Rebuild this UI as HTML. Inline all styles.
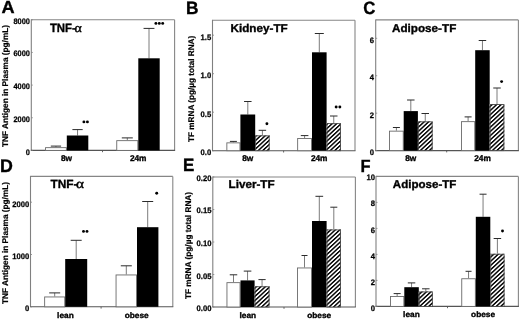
<!DOCTYPE html>
<html><head><meta charset="utf-8"><style>
html,body{margin:0;padding:0;background:#fff;}
body{width:520px;height:320px;overflow:hidden;}
svg{display:block;filter:blur(0.4px);}
text{text-rendering:geometricPrecision;}
</style></head><body>
<svg width="520" height="320" viewBox="0 0 520 320">
<defs>
<pattern id="hatch" patternUnits="userSpaceOnUse" width="3.07" height="3.07" patternTransform="rotate(47)">
<rect x="0" y="0" width="3.07" height="3.07" fill="#fff"/>
<rect x="0" y="0" width="1.45" height="3.07" fill="#000"/>
</pattern>
</defs>
<rect x="0" y="0" width="520" height="320" fill="#fff"/>
<line x1="31.3" y1="19.8" x2="174.6" y2="19.8" stroke="#868686" stroke-width="1.1"/>
<line x1="174.6" y1="19.8" x2="174.6" y2="150.4" stroke="#868686" stroke-width="1.1"/>
<line x1="31.3" y1="19.3" x2="31.3" y2="150.4" stroke="#808080" stroke-width="1.1"/>
<line x1="30.8" y1="150.4" x2="175.1" y2="150.4" stroke="#555555" stroke-width="1.1"/>
<line x1="31.3" y1="150.4" x2="32.8" y2="150.4" stroke="#808080" stroke-width="0.8"/>
<text transform="translate(29.9,155) scale(0.94,1.0)" x="0" y="0" font-size="7.9" text-anchor="end" font-weight="bold" font-family='"Liberation Sans", sans-serif' stroke="#000" stroke-width="0.25" >0</text>
<line x1="31.3" y1="117.75" x2="32.8" y2="117.75" stroke="#808080" stroke-width="0.8"/>
<text transform="translate(29.9,122) scale(0.94,1.0)" x="0" y="0" font-size="7.9" text-anchor="end" font-weight="bold" font-family='"Liberation Sans", sans-serif' stroke="#000" stroke-width="0.25" >2000</text>
<line x1="31.3" y1="85.10000000000001" x2="32.8" y2="85.10000000000001" stroke="#808080" stroke-width="0.8"/>
<text transform="translate(29.9,89) scale(0.94,1.0)" x="0" y="0" font-size="7.9" text-anchor="end" font-weight="bold" font-family='"Liberation Sans", sans-serif' stroke="#000" stroke-width="0.25" >4000</text>
<line x1="31.3" y1="52.45" x2="32.8" y2="52.45" stroke="#808080" stroke-width="0.8"/>
<text transform="translate(29.9,56) scale(0.94,1.0)" x="0" y="0" font-size="7.9" text-anchor="end" font-weight="bold" font-family='"Liberation Sans", sans-serif' stroke="#000" stroke-width="0.25" >6000</text>
<line x1="31.3" y1="19.80000000000001" x2="32.8" y2="19.80000000000001" stroke="#808080" stroke-width="0.8"/>
<text transform="translate(29.9,24) scale(0.94,1.0)" x="0" y="0" font-size="7.9" text-anchor="end" font-weight="bold" font-family='"Liberation Sans", sans-serif' stroke="#000" stroke-width="0.25" >8000</text>
<line x1="55.95" y1="147.2" x2="55.95" y2="146.1" stroke="#5a5a5a" stroke-width="0.8"/>
<line x1="50.800000000000004" y1="146.1" x2="61.1" y2="146.1" stroke="#2a2a2a" stroke-width="1"/>
<rect x="45.550000000000004" y="147.64999999999998" width="20.799999999999997" height="2.750000000000017" fill="#fff" stroke="#6a6a6a" stroke-width="0.9"/>
<line x1="77.55" y1="135.5" x2="77.55" y2="129.6" stroke="#5a5a5a" stroke-width="0.8"/>
<line x1="72.39999999999999" y1="129.6" x2="82.7" y2="129.6" stroke="#2a2a2a" stroke-width="1"/>
<rect x="66.8" y="135.5" width="21.5" height="14.900000000000006" fill="#000"/>
<line x1="127.30000000000001" y1="140.2" x2="127.30000000000001" y2="137.9" stroke="#5a5a5a" stroke-width="0.8"/>
<line x1="121.80000000000001" y1="137.9" x2="132.8" y2="137.9" stroke="#2a2a2a" stroke-width="1"/>
<rect x="116.75" y="140.64999999999998" width="21.100000000000016" height="9.750000000000018" fill="#fff" stroke="#6a6a6a" stroke-width="0.9"/>
<line x1="149.0" y1="58.3" x2="149.0" y2="28.4" stroke="#5a5a5a" stroke-width="0.8"/>
<line x1="143.55" y1="28.4" x2="154.45" y2="28.4" stroke="#2a2a2a" stroke-width="1"/>
<rect x="138.3" y="58.3" width="21.399999999999977" height="92.10000000000001" fill="#000"/>
<line x1="102.5" y1="150.4" x2="102.5" y2="152.20000000000002" stroke="#555555" stroke-width="0.9"/>
<text x="66.5" y="161.2" font-size="8.3" text-anchor="middle" font-weight="bold" font-family='"Liberation Sans", sans-serif' stroke="#000" stroke-width="0.35" >8w</text>
<text x="138.2" y="161.2" font-size="8.3" text-anchor="middle" font-weight="bold" font-family='"Liberation Sans", sans-serif' stroke="#000" stroke-width="0.35" >24m</text>
<circle cx="83.9" cy="121.9" r="1.45" fill="#000"/>
<circle cx="87.4" cy="121.9" r="1.45" fill="#000"/>
<circle cx="155.9" cy="23.4" r="1.45" fill="#000"/>
<circle cx="159.3" cy="23.4" r="1.45" fill="#000"/>
<circle cx="162.70000000000002" cy="23.4" r="1.45" fill="#000"/>
<text transform="translate(49.9,31.5) scale(0.95,1)" x="0" y="0" font-size="12.0" font-weight="bold" font-family='"Liberation Sans", sans-serif' stroke="#000" stroke-width="0.35">TNF-</text>
<text transform="translate(74.4,31.5) scale(1.1,1)" x="0" y="0" font-size="12.6" font-family='"Liberation Serif", serif' stroke="#000" stroke-width="0.4">&#945;</text>
<text transform="translate(1.6,13.05) scale(1.05,1.02)" x="0" y="0" font-size="17.3" text-anchor="start" font-weight="bold" font-family='"Liberation Sans", sans-serif' stroke="#000" stroke-width="0.35" >A</text>
<text x="0" y="0" transform="translate(7.9,86) rotate(-90)" font-size="8.25" text-anchor="middle" font-weight="bold" font-family='"Liberation Sans", sans-serif' stroke="#000" stroke-width="0.2">TNF Antigen in Plasma (pg/mL)</text>
<line x1="212.5" y1="20.3" x2="355.0" y2="20.3" stroke="#868686" stroke-width="1.1"/>
<line x1="355.0" y1="20.3" x2="355.0" y2="150.7" stroke="#868686" stroke-width="1.1"/>
<line x1="212.5" y1="19.8" x2="212.5" y2="150.7" stroke="#808080" stroke-width="1.1"/>
<line x1="212.0" y1="150.7" x2="355.5" y2="150.7" stroke="#555555" stroke-width="1.1"/>
<line x1="212.5" y1="150.7" x2="214.0" y2="150.7" stroke="#808080" stroke-width="0.8"/>
<text transform="translate(211.2,155) scale(0.97,1.0)" x="0" y="0" font-size="7.9" text-anchor="end" font-weight="bold" font-family='"Liberation Sans", sans-serif' stroke="#000" stroke-width="0.25" >0.0</text>
<line x1="212.5" y1="112.19999999999999" x2="214.0" y2="112.19999999999999" stroke="#808080" stroke-width="0.8"/>
<text transform="translate(211.2,117) scale(0.97,1.0)" x="0" y="0" font-size="7.9" text-anchor="end" font-weight="bold" font-family='"Liberation Sans", sans-serif' stroke="#000" stroke-width="0.25" >0.5</text>
<line x1="212.5" y1="73.7" x2="214.0" y2="73.7" stroke="#808080" stroke-width="0.8"/>
<text transform="translate(211.2,78) scale(0.97,1.0)" x="0" y="0" font-size="7.9" text-anchor="end" font-weight="bold" font-family='"Liberation Sans", sans-serif' stroke="#000" stroke-width="0.25" >1.0</text>
<line x1="212.5" y1="35.2" x2="214.0" y2="35.2" stroke="#808080" stroke-width="0.8"/>
<text transform="translate(211.2,40) scale(0.97,1.0)" x="0" y="0" font-size="7.9" text-anchor="end" font-weight="bold" font-family='"Liberation Sans", sans-serif' stroke="#000" stroke-width="0.25" >1.5</text>
<line x1="233.4" y1="142.4" x2="233.4" y2="141.4" stroke="#5a5a5a" stroke-width="0.8"/>
<line x1="229.9" y1="141.4" x2="236.9" y2="141.4" stroke="#2a2a2a" stroke-width="1"/>
<rect x="226.85" y="142.85" width="13.1" height="7.849999999999983" fill="#fff" stroke="#6a6a6a" stroke-width="0.9"/>
<line x1="247.8" y1="114.5" x2="247.8" y2="101.5" stroke="#5a5a5a" stroke-width="0.8"/>
<line x1="244.05" y1="101.5" x2="251.55" y2="101.5" stroke="#2a2a2a" stroke-width="1"/>
<rect x="240.4" y="114.5" width="14.799999999999983" height="36.19999999999999" fill="#000"/>
<line x1="262.4" y1="135.4" x2="262.4" y2="130.3" stroke="#5a5a5a" stroke-width="0.8"/>
<line x1="258.65" y1="130.3" x2="266.15" y2="130.3" stroke="#2a2a2a" stroke-width="1"/>
<rect x="255.2" y="135.4" width="14.400000000000034" height="15.299999999999983" fill="url(#hatch)"/>
<rect x="255.64999999999998" y="135.85" width="13.500000000000034" height="14.849999999999984" fill="none" stroke="#4a4a4a" stroke-width="0.9"/>
<line x1="304.6" y1="138.0" x2="304.6" y2="135.6" stroke="#5a5a5a" stroke-width="0.8"/>
<line x1="300.8" y1="135.6" x2="308.40000000000003" y2="135.6" stroke="#2a2a2a" stroke-width="1"/>
<rect x="297.65" y="138.45" width="13.900000000000011" height="12.24999999999999" fill="#fff" stroke="#6a6a6a" stroke-width="0.9"/>
<line x1="319.3" y1="52.3" x2="319.3" y2="33.5" stroke="#5a5a5a" stroke-width="0.8"/>
<line x1="314.8" y1="33.5" x2="323.8" y2="33.5" stroke="#2a2a2a" stroke-width="1"/>
<rect x="312" y="52.3" width="14.600000000000023" height="98.39999999999999" fill="#000"/>
<line x1="333.75" y1="123.2" x2="333.75" y2="116.0" stroke="#5a5a5a" stroke-width="0.8"/>
<line x1="330.0" y1="116.0" x2="337.5" y2="116.0" stroke="#2a2a2a" stroke-width="1"/>
<rect x="326.6" y="123.2" width="14.299999999999955" height="27.499999999999986" fill="url(#hatch)"/>
<rect x="327.05" y="123.65" width="13.399999999999954" height="27.049999999999986" fill="none" stroke="#4a4a4a" stroke-width="0.9"/>
<line x1="283.6" y1="150.7" x2="283.6" y2="152.5" stroke="#555555" stroke-width="0.9"/>
<text x="247.8" y="161.4" font-size="8.3" text-anchor="middle" font-weight="bold" font-family='"Liberation Sans", sans-serif' stroke="#000" stroke-width="0.35" >8w</text>
<text x="319.2" y="161.4" font-size="8.3" text-anchor="middle" font-weight="bold" font-family='"Liberation Sans", sans-serif' stroke="#000" stroke-width="0.35" >24m</text>
<circle cx="266.9" cy="123.7" r="1.45" fill="#000"/>
<circle cx="336.15" cy="107" r="1.45" fill="#000"/>
<circle cx="339.85" cy="107" r="1.45" fill="#000"/>
<text transform="translate(230.5,31.8) scale(1.035,1.0)" x="0" y="0" font-size="11.3" text-anchor="start" font-weight="bold" font-family='"Liberation Sans", sans-serif' stroke="#000" stroke-width="0.35" >Kidney-TF</text>
<text transform="translate(186.1,13.6) scale(1.0,1.03)" x="0" y="0" font-size="17.3" text-anchor="start" font-weight="bold" font-family='"Liberation Sans", sans-serif' stroke="#000" stroke-width="0.35" >B</text>
<text x="0" y="0" transform="translate(194.0,88.85) rotate(-90)" font-size="8.19" text-anchor="middle" font-weight="bold" font-family='"Liberation Sans", sans-serif' stroke="#000" stroke-width="0.2">TF mRNA (pg/&#181;g total RNA)</text>
<line x1="375.7" y1="19.9" x2="518.4" y2="19.9" stroke="#868686" stroke-width="1.1"/>
<line x1="518.4" y1="19.9" x2="518.4" y2="150.6" stroke="#868686" stroke-width="1.1"/>
<line x1="375.7" y1="19.4" x2="375.7" y2="150.6" stroke="#808080" stroke-width="1.1"/>
<line x1="375.2" y1="150.6" x2="518.9" y2="150.6" stroke="#555555" stroke-width="1.1"/>
<line x1="375.7" y1="150.6" x2="377.2" y2="150.6" stroke="#808080" stroke-width="0.8"/>
<text transform="translate(373.9,155) scale(0.97,1.0)" x="0" y="0" font-size="7.9" text-anchor="end" font-weight="bold" font-family='"Liberation Sans", sans-serif' stroke="#000" stroke-width="0.25" >0</text>
<line x1="375.7" y1="113.16666666666666" x2="377.2" y2="113.16666666666666" stroke="#808080" stroke-width="0.8"/>
<text transform="translate(373.9,118) scale(0.97,1.0)" x="0" y="0" font-size="7.9" text-anchor="end" font-weight="bold" font-family='"Liberation Sans", sans-serif' stroke="#000" stroke-width="0.25" >2</text>
<line x1="375.7" y1="75.73333333333333" x2="377.2" y2="75.73333333333333" stroke="#808080" stroke-width="0.8"/>
<text transform="translate(373.9,80) scale(0.97,1.0)" x="0" y="0" font-size="7.9" text-anchor="end" font-weight="bold" font-family='"Liberation Sans", sans-serif' stroke="#000" stroke-width="0.25" >4</text>
<line x1="375.7" y1="38.3" x2="377.2" y2="38.3" stroke="#808080" stroke-width="0.8"/>
<text transform="translate(373.9,43) scale(0.97,1.0)" x="0" y="0" font-size="7.9" text-anchor="end" font-weight="bold" font-family='"Liberation Sans", sans-serif' stroke="#000" stroke-width="0.25" >6</text>
<line x1="396.4" y1="130.7" x2="396.4" y2="127.5" stroke="#5a5a5a" stroke-width="0.8"/>
<line x1="392.9" y1="127.5" x2="399.9" y2="127.5" stroke="#2a2a2a" stroke-width="1"/>
<rect x="389.55" y="131.14999999999998" width="13.699999999999966" height="19.450000000000006" fill="#fff" stroke="#6a6a6a" stroke-width="0.9"/>
<line x1="410.79999999999995" y1="111.1" x2="410.79999999999995" y2="100.0" stroke="#5a5a5a" stroke-width="0.8"/>
<line x1="407.04999999999995" y1="100.0" x2="414.54999999999995" y2="100.0" stroke="#2a2a2a" stroke-width="1"/>
<rect x="403.7" y="111.1" width="14.199999999999989" height="39.5" fill="#000"/>
<line x1="425.25" y1="121.4" x2="425.25" y2="113.5" stroke="#5a5a5a" stroke-width="0.8"/>
<line x1="421.5" y1="113.5" x2="429.0" y2="113.5" stroke="#2a2a2a" stroke-width="1"/>
<rect x="417.9" y="121.4" width="14.700000000000045" height="29.19999999999999" fill="url(#hatch)"/>
<rect x="418.34999999999997" y="121.85000000000001" width="13.800000000000045" height="28.74999999999999" fill="none" stroke="#4a4a4a" stroke-width="0.9"/>
<line x1="468.1" y1="121.2" x2="468.1" y2="116.9" stroke="#5a5a5a" stroke-width="0.8"/>
<line x1="464.6" y1="116.9" x2="471.6" y2="116.9" stroke="#2a2a2a" stroke-width="1"/>
<rect x="461.45" y="121.65" width="13.299999999999988" height="28.949999999999992" fill="#fff" stroke="#6a6a6a" stroke-width="0.9"/>
<line x1="482.45" y1="50.2" x2="482.45" y2="40.5" stroke="#5a5a5a" stroke-width="0.8"/>
<line x1="478.7" y1="40.5" x2="486.2" y2="40.5" stroke="#2a2a2a" stroke-width="1"/>
<rect x="475.2" y="50.2" width="14.5" height="100.39999999999999" fill="#000"/>
<line x1="497.0" y1="104.1" x2="497.0" y2="88.0" stroke="#5a5a5a" stroke-width="0.8"/>
<line x1="493.25" y1="88.0" x2="500.75" y2="88.0" stroke="#2a2a2a" stroke-width="1"/>
<rect x="489.7" y="104.1" width="14.600000000000023" height="46.5" fill="url(#hatch)"/>
<rect x="490.15" y="104.55" width="13.700000000000022" height="46.05" fill="none" stroke="#4a4a4a" stroke-width="0.9"/>
<line x1="446.7" y1="150.6" x2="446.7" y2="152.4" stroke="#555555" stroke-width="0.9"/>
<text x="410.8" y="161.4" font-size="8.3" text-anchor="middle" font-weight="bold" font-family='"Liberation Sans", sans-serif' stroke="#000" stroke-width="0.35" >8w</text>
<text x="482.5" y="161.4" font-size="8.3" text-anchor="middle" font-weight="bold" font-family='"Liberation Sans", sans-serif' stroke="#000" stroke-width="0.35" >24m</text>
<circle cx="501.6" cy="81.6" r="1.45" fill="#000"/>
<text transform="translate(392,31.8) scale(1.035,1.0)" x="0" y="0" font-size="11.3" text-anchor="start" font-weight="bold" font-family='"Liberation Sans", sans-serif' stroke="#000" stroke-width="0.35" >Adipose-TF</text>
<text transform="translate(363.3,13.5) scale(0.97,1.03)" x="0" y="0" font-size="17.3" text-anchor="start" font-weight="bold" font-family='"Liberation Sans", sans-serif' stroke="#000" stroke-width="0.35" >C</text>
<line x1="30.5" y1="176.4" x2="172.8" y2="176.4" stroke="#868686" stroke-width="1.1"/>
<line x1="172.8" y1="176.4" x2="172.8" y2="306.8" stroke="#868686" stroke-width="1.1"/>
<line x1="30.5" y1="175.9" x2="30.5" y2="306.8" stroke="#808080" stroke-width="1.1"/>
<line x1="30.0" y1="306.8" x2="173.3" y2="306.8" stroke="#555555" stroke-width="1.1"/>
<line x1="30.5" y1="306.8" x2="32.0" y2="306.8" stroke="#808080" stroke-width="0.8"/>
<text transform="translate(29.2,311) scale(0.97,1.0)" x="0" y="0" font-size="7.9" text-anchor="end" font-weight="bold" font-family='"Liberation Sans", sans-serif' stroke="#000" stroke-width="0.25" >0</text>
<line x1="30.5" y1="254.5" x2="32.0" y2="254.5" stroke="#808080" stroke-width="0.8"/>
<text transform="translate(29.2,259) scale(0.97,1.0)" x="0" y="0" font-size="7.9" text-anchor="end" font-weight="bold" font-family='"Liberation Sans", sans-serif' stroke="#000" stroke-width="0.25" >1000</text>
<line x1="30.5" y1="202.2" x2="32.0" y2="202.2" stroke="#808080" stroke-width="0.8"/>
<text transform="translate(29.2,207) scale(0.97,1.0)" x="0" y="0" font-size="7.9" text-anchor="end" font-weight="bold" font-family='"Liberation Sans", sans-serif' stroke="#000" stroke-width="0.25" >2000</text>
<line x1="54.7" y1="296.5" x2="54.7" y2="292.9" stroke="#5a5a5a" stroke-width="0.8"/>
<line x1="49.2" y1="292.9" x2="60.2" y2="292.9" stroke="#2a2a2a" stroke-width="1"/>
<rect x="44.650000000000006" y="296.95" width="20.1" height="9.850000000000012" fill="#fff" stroke="#6a6a6a" stroke-width="0.9"/>
<line x1="76.2" y1="259" x2="76.2" y2="240.3" stroke="#5a5a5a" stroke-width="0.8"/>
<line x1="70.7" y1="240.3" x2="81.7" y2="240.3" stroke="#2a2a2a" stroke-width="1"/>
<rect x="65.2" y="259" width="22.0" height="47.80000000000001" fill="#000"/>
<line x1="126.3" y1="274.5" x2="126.3" y2="265.8" stroke="#5a5a5a" stroke-width="0.8"/>
<line x1="120.8" y1="265.8" x2="131.8" y2="265.8" stroke="#2a2a2a" stroke-width="1"/>
<rect x="116.05" y="274.95" width="20.500000000000007" height="31.850000000000012" fill="#fff" stroke="#6a6a6a" stroke-width="0.9"/>
<line x1="147.7" y1="227.2" x2="147.7" y2="201.5" stroke="#5a5a5a" stroke-width="0.8"/>
<line x1="142.2" y1="201.5" x2="153.2" y2="201.5" stroke="#2a2a2a" stroke-width="1"/>
<rect x="137" y="227.2" width="21.400000000000006" height="79.60000000000002" fill="#000"/>
<line x1="101.1" y1="306.8" x2="101.1" y2="308.6" stroke="#555555" stroke-width="0.9"/>
<text transform="translate(65.4,317.7) scale(1.0,0.96)" x="0" y="0" font-size="8.3" text-anchor="middle" font-weight="bold" font-family='"Liberation Sans", sans-serif' stroke="#000" stroke-width="0.35" >lean</text>
<text transform="translate(136.7,317.7) scale(1.0,0.96)" x="0" y="0" font-size="8.3" text-anchor="middle" font-weight="bold" font-family='"Liberation Sans", sans-serif' stroke="#000" stroke-width="0.35" >obese</text>
<circle cx="83.5" cy="231.4" r="1.45" fill="#000"/>
<circle cx="87.0" cy="231.4" r="1.45" fill="#000"/>
<circle cx="156.7" cy="193.3" r="1.45" fill="#000"/>
<text transform="translate(50.5,188.2) scale(1.0,1)" x="0" y="0" font-size="11.9" font-weight="bold" font-family='"Liberation Sans", sans-serif' stroke="#000" stroke-width="0.35">TNF-</text>
<text transform="translate(76.1,188.2) scale(1.15,1)" x="0" y="0" font-size="13.2" font-family='"Liberation Serif", serif' stroke="#000" stroke-width="0.4">&#945;</text>
<text transform="translate(0.05,172.0) scale(1.03,1.06)" x="0" y="0" font-size="17.3" text-anchor="start" font-weight="bold" font-family='"Liberation Sans", sans-serif' stroke="#000" stroke-width="0.35" >D</text>
<text x="0" y="0" transform="translate(8.0,243) rotate(-90)" font-size="8.25" text-anchor="middle" font-weight="bold" font-family='"Liberation Sans", sans-serif' stroke="#000" stroke-width="0.2">TNF Antigen in Plasma (pg/mL)</text>
<line x1="212.8" y1="177.0" x2="355.4" y2="177.0" stroke="#868686" stroke-width="1.1"/>
<line x1="355.4" y1="177.0" x2="355.4" y2="307.0" stroke="#868686" stroke-width="1.1"/>
<line x1="212.8" y1="176.5" x2="212.8" y2="307.0" stroke="#808080" stroke-width="1.1"/>
<line x1="212.3" y1="307.0" x2="355.9" y2="307.0" stroke="#555555" stroke-width="1.1"/>
<line x1="212.8" y1="307.0" x2="214.3" y2="307.0" stroke="#808080" stroke-width="0.8"/>
<text transform="translate(211.4,311) scale(0.97,1.0)" x="0" y="0" font-size="7.9" text-anchor="end" font-weight="bold" font-family='"Liberation Sans", sans-serif' stroke="#000" stroke-width="0.25" >0.00</text>
<line x1="212.8" y1="274.5" x2="214.3" y2="274.5" stroke="#808080" stroke-width="0.8"/>
<text transform="translate(211.4,279) scale(0.97,1.0)" x="0" y="0" font-size="7.9" text-anchor="end" font-weight="bold" font-family='"Liberation Sans", sans-serif' stroke="#000" stroke-width="0.25" >0.05</text>
<line x1="212.8" y1="242.0" x2="214.3" y2="242.0" stroke="#808080" stroke-width="0.8"/>
<text transform="translate(211.4,246) scale(0.97,1.0)" x="0" y="0" font-size="7.9" text-anchor="end" font-weight="bold" font-family='"Liberation Sans", sans-serif' stroke="#000" stroke-width="0.25" >0.10</text>
<line x1="212.8" y1="209.5" x2="214.3" y2="209.5" stroke="#808080" stroke-width="0.8"/>
<text transform="translate(211.4,213) scale(0.97,1.0)" x="0" y="0" font-size="7.9" text-anchor="end" font-weight="bold" font-family='"Liberation Sans", sans-serif' stroke="#000" stroke-width="0.25" >0.15</text>
<line x1="212.8" y1="177.0" x2="214.3" y2="177.0" stroke="#808080" stroke-width="0.8"/>
<text transform="translate(211.4,181) scale(0.97,1.0)" x="0" y="0" font-size="7.9" text-anchor="end" font-weight="bold" font-family='"Liberation Sans", sans-serif' stroke="#000" stroke-width="0.25" >0.20</text>
<line x1="233.5" y1="282.2" x2="233.5" y2="274.8" stroke="#5a5a5a" stroke-width="0.8"/>
<line x1="229.75" y1="274.8" x2="237.25" y2="274.8" stroke="#2a2a2a" stroke-width="1"/>
<rect x="226.95" y="282.65" width="13.1" height="24.350000000000012" fill="#fff" stroke="#6a6a6a" stroke-width="0.9"/>
<line x1="247.55" y1="280.4" x2="247.55" y2="271.1" stroke="#5a5a5a" stroke-width="0.8"/>
<line x1="243.75" y1="271.1" x2="251.35000000000002" y2="271.1" stroke="#2a2a2a" stroke-width="1"/>
<rect x="240.5" y="280.4" width="14.099999999999994" height="26.600000000000023" fill="#000"/>
<line x1="262.05" y1="286.3" x2="262.05" y2="279.6" stroke="#5a5a5a" stroke-width="0.8"/>
<line x1="258.45" y1="279.6" x2="265.65000000000003" y2="279.6" stroke="#2a2a2a" stroke-width="1"/>
<rect x="254.6" y="286.3" width="14.900000000000006" height="20.69999999999999" fill="url(#hatch)"/>
<rect x="255.04999999999998" y="286.75" width="14.000000000000005" height="20.24999999999999" fill="none" stroke="#4a4a4a" stroke-width="0.9"/>
<line x1="304.5" y1="267.5" x2="304.5" y2="255.5" stroke="#5a5a5a" stroke-width="0.8"/>
<line x1="301.5" y1="255.5" x2="307.5" y2="255.5" stroke="#2a2a2a" stroke-width="1"/>
<rect x="297.45" y="267.95" width="14.1" height="39.05" fill="#fff" stroke="#6a6a6a" stroke-width="0.9"/>
<line x1="319.3" y1="221" x2="319.3" y2="196.3" stroke="#5a5a5a" stroke-width="0.8"/>
<line x1="315.45" y1="196.3" x2="323.15000000000003" y2="196.3" stroke="#2a2a2a" stroke-width="1"/>
<rect x="312" y="221" width="14.600000000000023" height="86.0" fill="#000"/>
<line x1="333.8" y1="229.5" x2="333.8" y2="207.2" stroke="#5a5a5a" stroke-width="0.8"/>
<line x1="330.3" y1="207.2" x2="337.3" y2="207.2" stroke="#2a2a2a" stroke-width="1"/>
<rect x="326.6" y="229.5" width="14.399999999999977" height="77.5" fill="url(#hatch)"/>
<rect x="327.05" y="229.95" width="13.499999999999977" height="77.05" fill="none" stroke="#4a4a4a" stroke-width="0.9"/>
<line x1="284" y1="307.0" x2="284" y2="308.8" stroke="#555555" stroke-width="0.9"/>
<text transform="translate(247.8,317.7) scale(1.0,0.96)" x="0" y="0" font-size="8.3" text-anchor="middle" font-weight="bold" font-family='"Liberation Sans", sans-serif' stroke="#000" stroke-width="0.35" >lean</text>
<text transform="translate(319.2,317.7) scale(1.0,0.96)" x="0" y="0" font-size="8.3" text-anchor="middle" font-weight="bold" font-family='"Liberation Sans", sans-serif' stroke="#000" stroke-width="0.35" >obese</text>
<text transform="translate(228.5,188.1) scale(1.035,1.0)" x="0" y="0" font-size="11.3" text-anchor="start" font-weight="bold" font-family='"Liberation Sans", sans-serif' stroke="#000" stroke-width="0.35" >Liver-TF</text>
<text transform="translate(183.1,171.05) scale(0.98,1.03)" x="0" y="0" font-size="17.3" text-anchor="start" font-weight="bold" font-family='"Liberation Sans", sans-serif' stroke="#000" stroke-width="0.35" >E</text>
<text x="0" y="0" transform="translate(191.0,245.5) rotate(-90)" font-size="8.25" text-anchor="middle" font-weight="bold" font-family='"Liberation Sans", sans-serif' stroke="#000" stroke-width="0.2">TF mRNA (pg/&#181;g total RNA)</text>
<line x1="376.0" y1="176.4" x2="518.4" y2="176.4" stroke="#868686" stroke-width="1.1"/>
<line x1="518.4" y1="176.4" x2="518.4" y2="306.4" stroke="#868686" stroke-width="1.1"/>
<line x1="376.0" y1="175.9" x2="376.0" y2="306.4" stroke="#808080" stroke-width="1.1"/>
<line x1="375.5" y1="306.4" x2="518.9" y2="306.4" stroke="#555555" stroke-width="1.1"/>
<line x1="376.0" y1="306.4" x2="377.5" y2="306.4" stroke="#808080" stroke-width="0.8"/>
<text transform="translate(375.0,311) scale(0.97,1.0)" x="0" y="0" font-size="7.9" text-anchor="end" font-weight="bold" font-family='"Liberation Sans", sans-serif' stroke="#000" stroke-width="0.25" >0</text>
<line x1="376.0" y1="280.4" x2="377.5" y2="280.4" stroke="#808080" stroke-width="0.8"/>
<text transform="translate(375.0,285) scale(0.97,1.0)" x="0" y="0" font-size="7.9" text-anchor="end" font-weight="bold" font-family='"Liberation Sans", sans-serif' stroke="#000" stroke-width="0.25" >2</text>
<line x1="376.0" y1="254.39999999999998" x2="377.5" y2="254.39999999999998" stroke="#808080" stroke-width="0.8"/>
<text transform="translate(375.0,259) scale(0.97,1.0)" x="0" y="0" font-size="7.9" text-anchor="end" font-weight="bold" font-family='"Liberation Sans", sans-serif' stroke="#000" stroke-width="0.25" >4</text>
<line x1="376.0" y1="228.4" x2="377.5" y2="228.4" stroke="#808080" stroke-width="0.8"/>
<text transform="translate(375.0,233) scale(0.97,1.0)" x="0" y="0" font-size="7.9" text-anchor="end" font-weight="bold" font-family='"Liberation Sans", sans-serif' stroke="#000" stroke-width="0.25" >6</text>
<line x1="376.0" y1="202.4" x2="377.5" y2="202.4" stroke="#808080" stroke-width="0.8"/>
<text transform="translate(375.0,206) scale(0.97,1.0)" x="0" y="0" font-size="7.9" text-anchor="end" font-weight="bold" font-family='"Liberation Sans", sans-serif' stroke="#000" stroke-width="0.25" >8</text>
<line x1="376.0" y1="176.4" x2="377.5" y2="176.4" stroke="#808080" stroke-width="0.8"/>
<text transform="translate(375.0,180) scale(0.97,1.0)" x="0" y="0" font-size="7.9" text-anchor="end" font-weight="bold" font-family='"Liberation Sans", sans-serif' stroke="#000" stroke-width="0.25" >10</text>
<line x1="397.15" y1="296.1" x2="397.15" y2="293.6" stroke="#5a5a5a" stroke-width="0.8"/>
<line x1="393.65" y1="293.6" x2="400.65" y2="293.6" stroke="#2a2a2a" stroke-width="1"/>
<rect x="390.45" y="296.55" width="13.400000000000011" height="9.849999999999955" fill="#fff" stroke="#6a6a6a" stroke-width="0.9"/>
<line x1="411.55" y1="287.2" x2="411.55" y2="282.9" stroke="#5a5a5a" stroke-width="0.8"/>
<line x1="407.8" y1="282.9" x2="415.3" y2="282.9" stroke="#2a2a2a" stroke-width="1"/>
<rect x="404.3" y="287.2" width="14.5" height="19.19999999999999" fill="#000"/>
<line x1="425.8" y1="291.5" x2="425.8" y2="288.8" stroke="#5a5a5a" stroke-width="0.8"/>
<line x1="422.05" y1="288.8" x2="429.55" y2="288.8" stroke="#2a2a2a" stroke-width="1"/>
<rect x="418.8" y="291.5" width="14.0" height="14.899999999999977" fill="url(#hatch)"/>
<rect x="419.25" y="291.95" width="13.1" height="14.449999999999978" fill="none" stroke="#4a4a4a" stroke-width="0.9"/>
<line x1="468.55" y1="278.3" x2="468.55" y2="271.3" stroke="#5a5a5a" stroke-width="0.8"/>
<line x1="465.55" y1="271.3" x2="471.55" y2="271.3" stroke="#2a2a2a" stroke-width="1"/>
<rect x="461.75" y="278.75" width="13.6" height="27.649999999999967" fill="#fff" stroke="#6a6a6a" stroke-width="0.9"/>
<line x1="483.05" y1="216.8" x2="483.05" y2="194.2" stroke="#5a5a5a" stroke-width="0.8"/>
<line x1="479.55" y1="194.2" x2="486.55" y2="194.2" stroke="#2a2a2a" stroke-width="1"/>
<rect x="475.8" y="216.8" width="14.5" height="89.59999999999997" fill="#000"/>
<line x1="497.4" y1="253.8" x2="497.4" y2="238.5" stroke="#5a5a5a" stroke-width="0.8"/>
<line x1="493.65" y1="238.5" x2="501.15" y2="238.5" stroke="#2a2a2a" stroke-width="1"/>
<rect x="490.3" y="253.8" width="14.199999999999989" height="52.599999999999966" fill="url(#hatch)"/>
<rect x="490.75" y="254.25" width="13.299999999999988" height="52.14999999999996" fill="none" stroke="#4a4a4a" stroke-width="0.9"/>
<line x1="447.5" y1="306.4" x2="447.5" y2="308.2" stroke="#555555" stroke-width="0.9"/>
<text transform="translate(411.4,317.4) scale(1.0,0.96)" x="0" y="0" font-size="8.3" text-anchor="middle" font-weight="bold" font-family='"Liberation Sans", sans-serif' stroke="#000" stroke-width="0.35" >lean</text>
<text transform="translate(483.1,317.4) scale(1.0,0.96)" x="0" y="0" font-size="8.3" text-anchor="middle" font-weight="bold" font-family='"Liberation Sans", sans-serif' stroke="#000" stroke-width="0.35" >obese</text>
<circle cx="502.5" cy="231" r="1.45" fill="#000"/>
<text transform="translate(392.8,187.8) scale(1.023,1.0)" x="0" y="0" font-size="11.3" text-anchor="start" font-weight="bold" font-family='"Liberation Sans", sans-serif' stroke="#000" stroke-width="0.35" >Adipose-TF</text>
<text transform="translate(360.6,171.8) scale(0.95,1.02)" x="0" y="0" font-size="17.3" text-anchor="start" font-weight="bold" font-family='"Liberation Sans", sans-serif' stroke="#000" stroke-width="0.35" >F</text>
</svg>
</body></html>
